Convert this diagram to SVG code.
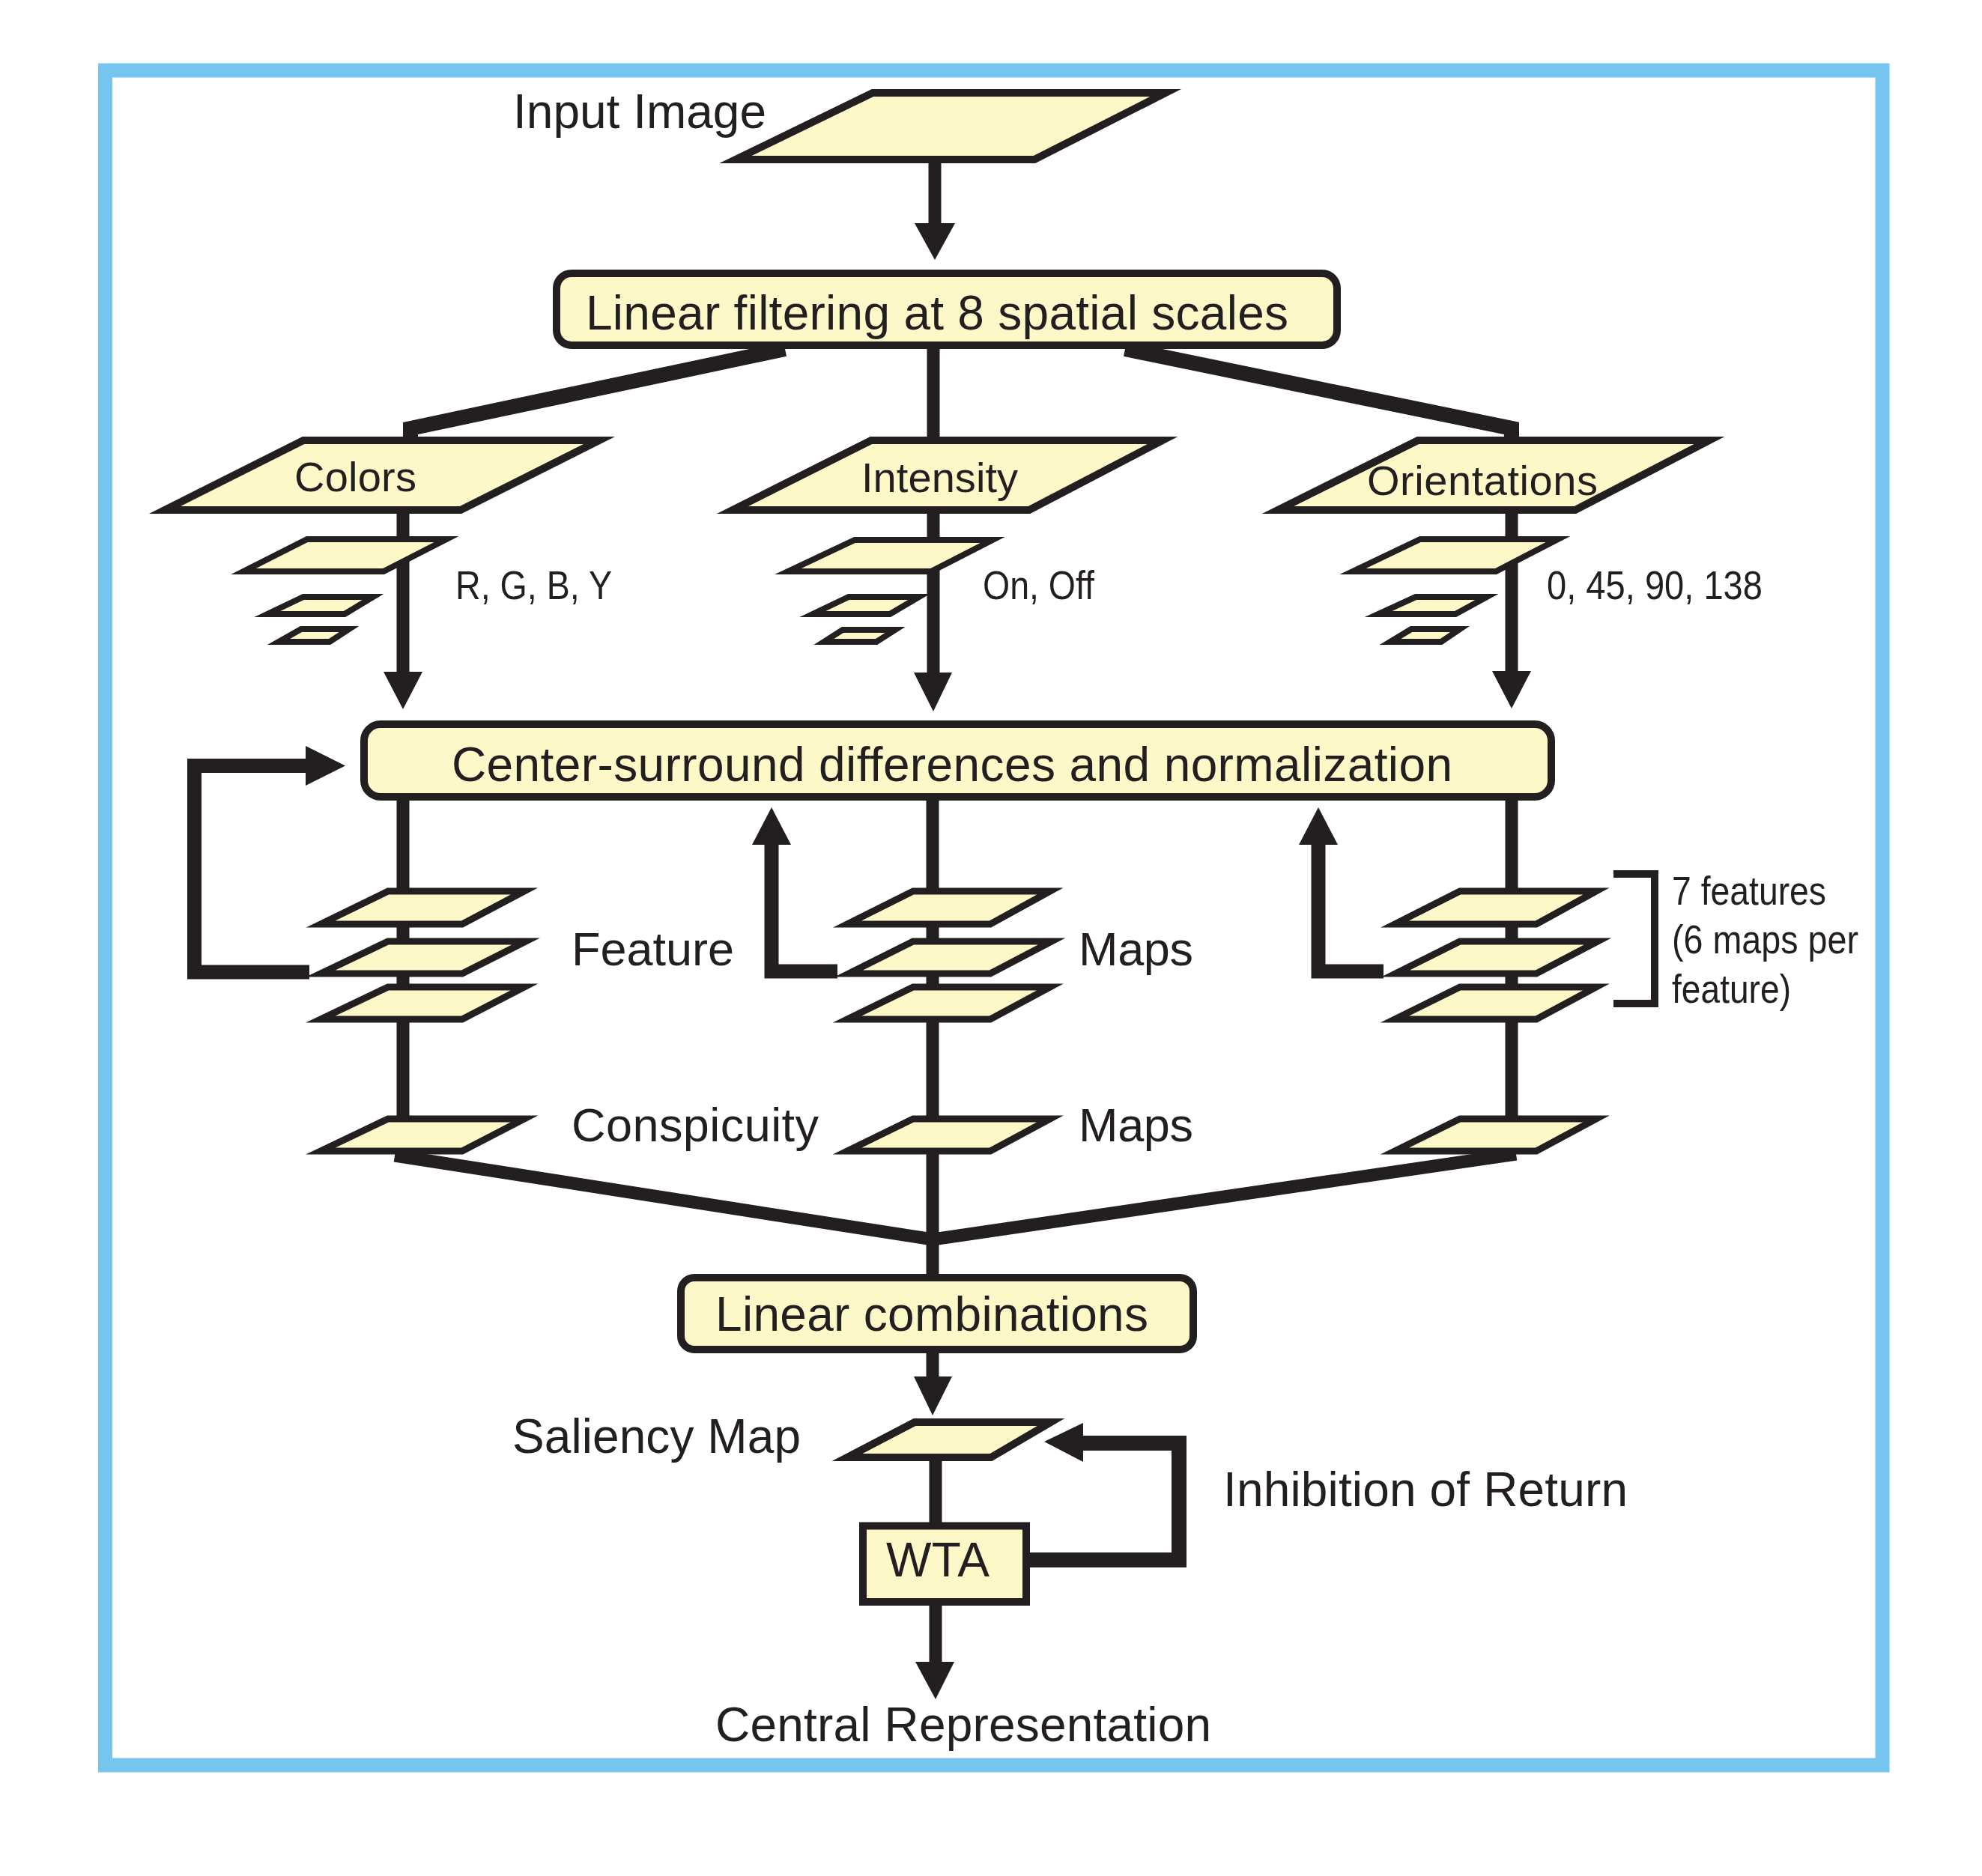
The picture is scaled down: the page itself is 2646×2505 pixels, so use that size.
<svg xmlns="http://www.w3.org/2000/svg" width="2646" height="2505" viewBox="0 0 2646 2505">
<style>
.node{fill:#fdf8c8;stroke:#231f20;stroke-width:10;stroke-linejoin:miter;stroke-miterlimit:10}
.sm{fill:#fdf8c8;stroke:#231f20;stroke-width:8;stroke-linejoin:miter;stroke-miterlimit:10}
.map{fill:#fdf8c8;stroke:#231f20;stroke-width:9;stroke-linejoin:miter;stroke-miterlimit:10}
.ln{fill:none;stroke:#231f20;stroke-width:17;stroke-linejoin:miter;stroke-miterlimit:10}
.thick{fill:none;stroke:#231f20;stroke-width:20;stroke-linejoin:miter;stroke-miterlimit:10}
.ah{fill:#231f20;stroke:none}
.t{font-family:"Liberation Sans",Arial,sans-serif;fill:#231f20}
.big{font-size:64px}
.mid{font-size:56px}
.lab{font-size:63px}
.nar{font-size:53px}
</style>
<rect x="140.5" y="94" width="2372.5" height="2263" fill="none" stroke="#75c5ee" stroke-width="19"/>

<g id="connectors">
  <path class="ln" d="M1248,213 L1248,302"/>
  <polygon class="ah" points="1221,298 1275,298 1248,347"/>
  <path class="thick" d="M1048,466 L548,572 L548,590"/>
  <path class="ln" d="M1246,460 L1246,590"/>
  <path class="thick" d="M1502,466 L2018,572 L2018,590"/>
  <path class="ln" d="M538,681 L538,902"/>
  <polygon class="ah" points="512,897 564,897 538,947"/>
  <path class="ln" d="M1246,681 L1246,902"/>
  <polygon class="ah" points="1220,898 1271,898 1246,950"/>
  <path class="ln" d="M2018,681 L2018,902"/>
  <polygon class="ah" points="1992,896 2044,896 2018,946"/>
  <path class="ln" d="M538,1064 L538,1540"/>
  <path class="ln" d="M1245,1064 L1245,1708"/>
  <path class="ln" d="M2018,1064 L2018,1540"/>
  <path class="thick" style="stroke-width:19" d="M413,1298 L259.5,1298 L259.5,1022.5 L412,1022.5"/>
  <polygon class="ah" points="408,996 461,1022.5 408,1049"/>
  <path class="thick" style="stroke-width:19" d="M1118,1297 L1030,1297 L1030,1124"/>
  <polygon class="ah" points="1004,1128 1030,1078 1056,1128"/>
  <path class="thick" style="stroke-width:19" d="M1847,1297 L1760,1297 L1760,1124"/>
  <polygon class="ah" points="1734,1128 1760,1078 1786,1128"/>
  <path class="ln" d="M527,1543 L1245,1655 L2024,1541"/>
  <path class="ln" d="M1245,1802 L1245,1842"/>
  <polygon class="ah" points="1220,1838 1271,1838 1245,1890"/>
  <path class="ln" d="M1249,1946 L1249,2040"/>
  <path class="ln" d="M1249,2139 L1249,2223"/>
  <polygon class="ah" points="1222,2219 1274,2219 1249,2269"/>
  <path class="thick" d="M1370,2083 L1574,2083 L1574,1927 L1440,1927"/>
  <polygon class="ah" points="1394,1925 1446,1900 1446,1952"/>
  <path fill="none" stroke="#231f20" stroke-width="10" d="M2154,1167 L2209,1167 L2209,1340 L2154,1340"/>
</g>

<g id="input-image">
  <path class="node" d="M1165,124 L1556,124 L1381,213 L982,213 Z"/>
  <text class="t big" x="685" y="171" textLength="338">Input Image</text>
</g>
<g id="linear-filtering">
  <rect class="node" x="743" y="365" width="1042" height="96" rx="20"/>
  <text class="t big" x="782" y="440" textLength="938">Linear filtering at 8 spatial scales</text>
</g>
<g id="colors">
  <path class="node" d="M405,588 L800,588 L615,681 L220,681 Z"/>
  <text class="t mid" x="393" y="656" textLength="163">Colors</text>
  <path class="sm" d="M410,720 L596,720 L512,763 L325,763 Z"/>
  <path class="sm" d="M405,797 L498,797 L460,820 L357,820 Z"/>
  <path class="sm" d="M402,840 L466,840 L440,857 L372,857 Z"/>
  <text class="t nar" x="608" y="800" textLength="209" lengthAdjust="spacingAndGlyphs">R, G, B, Y</text>
</g>
<g id="intensity">
  <path class="node" d="M1163,588 L1552,588 L1374,681 L978,681 Z"/>
  <text class="t mid" x="1150" y="657" textLength="209">Intensity</text>
  <path class="sm" d="M1141,721 L1325,721 L1243,763 L1052,763 Z"/>
  <path class="sm" d="M1133,797 L1227,797 L1188,820 L1085,820 Z"/>
  <path class="sm" d="M1125,841 L1195,841 L1170,857 L1100,857 Z"/>
  <text class="t nar" x="1312" y="800" textLength="149" lengthAdjust="spacingAndGlyphs">On, Off</text>
</g>
<g id="orientations">
  <path class="node" d="M1893,588 L2282,588 L2103,681 L1706,681 Z"/>
  <text class="t mid" x="1825" y="661" textLength="308">Orientations</text>
  <path class="sm" d="M1896,720 L2080,720 L1997,763 L1806,763 Z"/>
  <path class="sm" d="M1890,797 L1985,797 L1943,820 L1840,820 Z"/>
  <path class="sm" d="M1884,840 L1949,840 L1924,857 L1856,857 Z"/>
  <text class="t nar" x="2065" y="800" textLength="288" lengthAdjust="spacingAndGlyphs">0, 45, 90, 138</text>
</g>
<g id="center-surround">
  <rect class="node" x="486" y="967" width="1585" height="97" rx="22"/>
  <text class="t big" x="603" y="1043" textLength="1336">Center-surround differences and normalization</text>
</g>
<g id="feature-maps-colors">
  <path class="map" d="M518,1190 L700,1190 L617,1234 L428,1234 Z"/>
  <path class="map" d="M518,1257 L702,1257 L617,1300 L428,1300 Z"/>
  <path class="map" d="M518,1318 L700,1318 L617,1361 L428,1361 Z"/>
</g>
<g id="feature-maps-intensity">
  <path class="map" d="M1219,1190 L1402,1190 L1322,1234 L1131,1234 Z"/>
  <path class="map" d="M1219,1257 L1404,1257 L1322,1300 L1133,1300 Z"/>
  <path class="map" d="M1219,1318 L1402,1318 L1322,1361 L1131,1361 Z"/>
</g>
<g id="feature-maps-orientations">
  <path class="map" d="M1949,1190 L2131,1190 L2051,1234 L1862,1234 Z"/>
  <path class="map" d="M1949,1257 L2133,1257 L2051,1300 L1863,1300 Z"/>
  <path class="map" d="M1949,1318 L2131,1318 L2051,1361 L1862,1361 Z"/>
</g>
<g id="conspicuity-colors">
  <path class="map" d="M518,1494 L700,1494 L617,1537 L428,1537 Z"/>
</g>
<g id="conspicuity-intensity">
  <path class="map" d="M1219,1494 L1402,1494 L1322,1537 L1131,1537 Z"/>
</g>
<g id="conspicuity-orientations">
  <path class="map" d="M1949,1494 L2131,1494 L2051,1537 L1862,1537 Z"/>
</g>
<g id="labels">
  <text class="t lab" x="763" y="1289" textLength="217">Feature</text>
  <text class="t lab" x="1440" y="1289" textLength="153">Maps</text>
  <text class="t lab" x="763" y="1524" textLength="330">Conspicuity</text>
  <text class="t lab" x="1440" y="1524" textLength="153">Maps</text>
  <text class="t nar" x="2232" y="1208" textLength="206" lengthAdjust="spacingAndGlyphs">7 features</text>
  <text class="t nar" x="2232" y="1273" textLength="249" lengthAdjust="spacingAndGlyphs">(6 maps per</text>
  <text class="t nar" x="2232" y="1339" textLength="159" lengthAdjust="spacingAndGlyphs">feature)</text>
  <text class="t big" x="1633" y="2011" textLength="540">Inhibition of Return</text>
  <text class="t big" x="955" y="2325" textLength="662">Central Representation</text>
</g>
<g id="linear-combinations">
  <rect class="node" x="909" y="1706" width="684" height="96" rx="18"/>
  <text class="t big" x="955" y="1777" textLength="578">Linear combinations</text>
</g>
<g id="saliency-map">
  <path class="map" style="stroke-width:10" d="M1221,1899 L1403,1899 L1323,1946 L1131,1946 Z"/>
  <text class="t big" x="684" y="1940" textLength="385">Saliency Map</text>
</g>
<g id="wta">
  <rect class="node" x="1152" y="2037.5" width="218" height="101.5"/>
  <text class="t big" x="1183" y="2105" textLength="138">WTA</text>
</g>
</svg>
